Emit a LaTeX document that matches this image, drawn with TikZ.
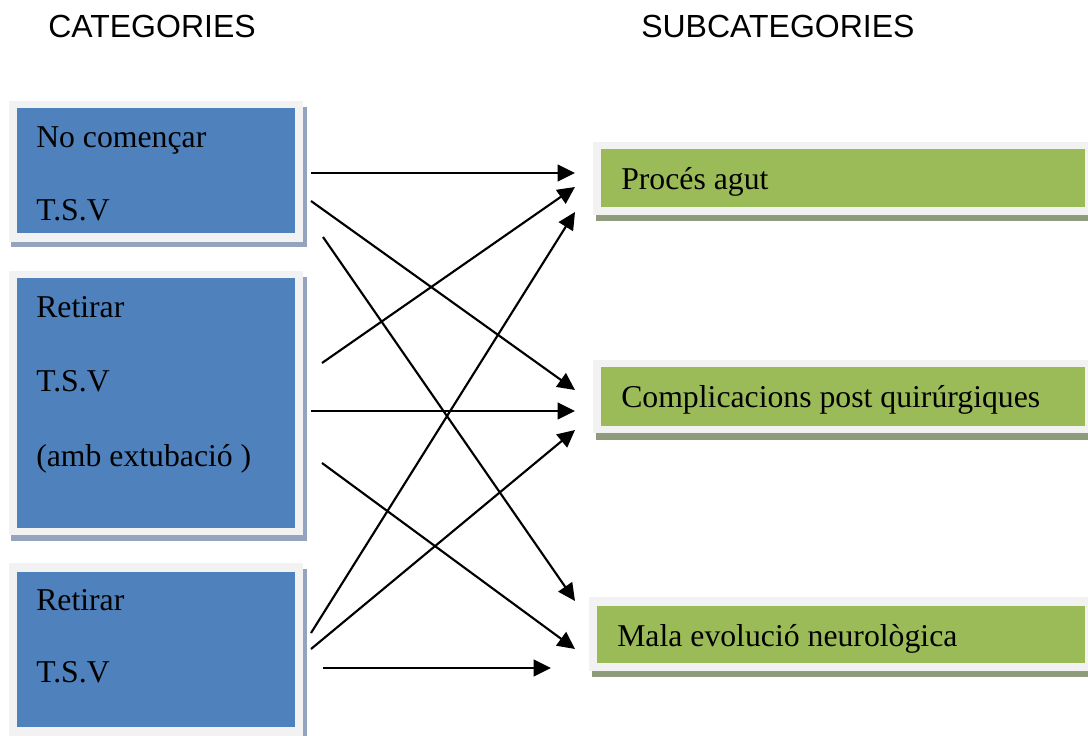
\documentclass[tikz,border=0pt]{standalone}
\usepackage{fontspec}
\setmainfont{Liberation Serif}
\setsansfont{Liberation Sans}
\usetikzlibrary{arrows.meta}
\definecolor{catblue}{HTML}{4F81BD}
\definecolor{subgreen}{HTML}{9BBB59}
\definecolor{framegray}{HTML}{F2F2F2}
\definecolor{blueshade}{HTML}{94A4BE}
\definecolor{greenshade}{HTML}{8E9C7C}

\tikzset{
  lbl/.style={anchor=base west, inner sep=0pt, font=\fontsize{23.8}{28}\selectfont},
  head/.style={anchor=base west, inner sep=0pt, font=\sffamily\fontsize{24}{28}\selectfont},
  link/.style={line width=1.6pt, -{Triangle[length=13pt, width=12.5pt]}}
}

\begin{document}
\begin{tikzpicture}[x=0.75pt, y=-0.75pt]
  \useasboundingbox (0,0) rectangle (1088,735);

  % Headings
  \node[head] (hcat) at (48,38) {CATEGORIES};
  \node[head] (hsub) at (641,38) {SUBCATEGORIES};

  % Category boxes (shadow, frame, fill)
  \fill[blueshade] (11,107) rectangle (307,247);
  \fill[framegray] (9,101) rectangle (303,242);
  \fill[catblue] (17,108) rectangle (295,233);
  \fill[blueshade] (11,277) rectangle (307,541);
  \fill[framegray] (9,271) rectangle (303,535);
  \fill[catblue] (17,278) rectangle (295,528);
  \fill[blueshade] (11,569) rectangle (307,745);
  \fill[framegray] (9,563) rectangle (303,745);
  \fill[catblue] (17,572) rectangle (295,727);

  % Subcategory boxes
  \fill[greenshade] (596,148) rectangle (1095,221);
  \fill[framegray] (593,142) rectangle (1095,215);
  \fill[subgreen] (601,149) rectangle (1085,207);
  \fill[greenshade] (596,366) rectangle (1095,440);
  \fill[framegray] (593,360) rectangle (1095,433);
  \fill[subgreen] (601,367) rectangle (1085,426);
  \fill[greenshade] (592,604) rectangle (1095,677);
  \fill[framegray] (589,597) rectangle (1095,671);
  \fill[subgreen] (597,606) rectangle (1085,663);

  % Box texts
  \node[lbl] (cat1a) at (36,147) {No començar};
  \node[lbl] (cat1b) at (36,220) {T.S.V};
  \node[lbl] (cat2a) at (36,317) {Retirar};
  \node[lbl] (cat2b) at (36,391) {T.S.V};
  \node[lbl] (cat2c) at (36,466) {(amb extubació )};
  \node[lbl] (cat3a) at (36,610) {Retirar};
  \node[lbl] (cat3b) at (36,682) {T.S.V};
  \node[lbl] (sub1) at (621,189) {Procés agut};
  \node[lbl] (sub2) at (621,407) {Complicacions post quirúrgiques};
  \node[lbl] (sub3) at (617,646) {Mala evolució neurològica};

  % Arrow ends
  \coordinate (a1) at (311,173);  \coordinate (a1e) at (575,173);
  \coordinate (a2) at (311,201);  \coordinate (a2e) at (575,390);
  \coordinate (a3) at (323,237);  \coordinate (a3e) at (575,601);
  \coordinate (b1) at (322,363);  \coordinate (b1e) at (575,187);
  \coordinate (b2) at (311,411);  \coordinate (b2e) at (575,411);
  \coordinate (b3) at (322,463);  \coordinate (b3e) at (575,649);
  \coordinate (c1) at (311,633);  \coordinate (c1e) at (575,212);
  \coordinate (c2) at (311,649);  \coordinate (c2e) at (575,430);
  \coordinate (c3) at (323,668);  \coordinate (c3e) at (551,668);

  % Links
  \foreach \s in {a1,a2,a3,b1,b2,b3,c1,c2,c3}
    \draw[link] (\s) -- (\s e);
\end{tikzpicture}
\end{document}
